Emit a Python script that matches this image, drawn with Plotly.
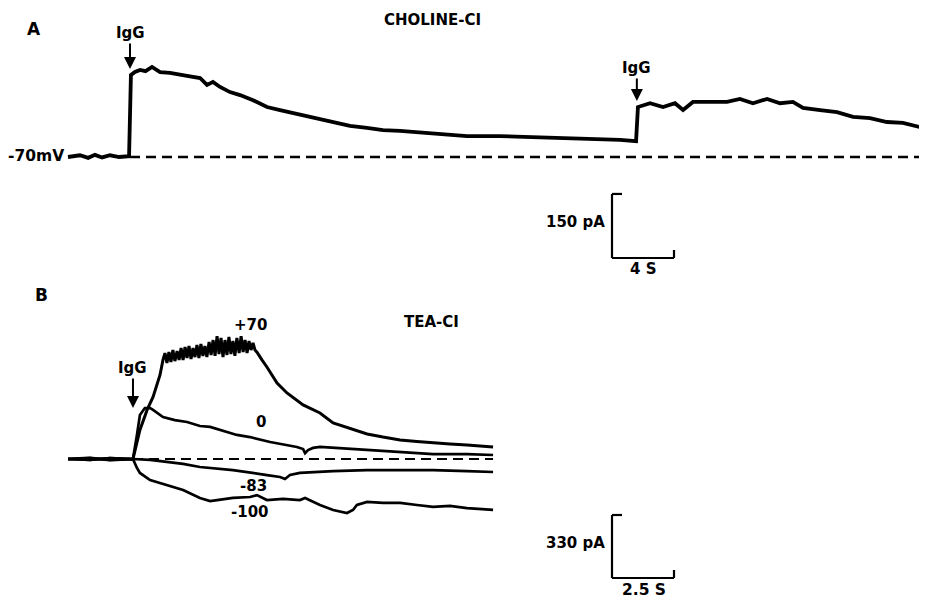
import plotly.graph_objects as go

# ---------------- DATA ----------------
# Panel A (Choline-Cl, holding -70 mV): time (s) from trace start, current (pA)
a_time = [0.0, 0.77, 1.3, 1.74, 2.2, 2.71, 3.3, 3.94, 4.06, 4.32, 4.65, 5.0, 5.42, 5.94, 6.58,
          7.23, 7.68, 8.52, 8.97, 9.35, 9.81, 10.45, 11.10, 11.94, 12.84, 13.68, 14.52,
          15.42, 16.26, 17.10, 18.19, 19.29, 20.32, 21.42, 23.55, 25.74, 27.87, 29.81,
          31.74, 33.87, 35.61, 36.65, 36.77, 37.55, 38.39, 39.16, 39.68, 40.32, 41.42,
          42.52, 43.35, 44.19, 45.10, 45.94, 46.77, 47.42, 48.52, 49.61, 50.65, 51.74,
          52.84, 53.87, 54.97, 55.42]
a_current = [0, 4, -2, 5, -1, 4, 0, 2, 192, 199, 204, 201, 211, 199, 197,
             194, 190, 185, 169, 176, 164, 152, 145, 133, 117, 110, 103,
             94, 87, 80, 73, 68, 63, 61, 56, 49, 49, 47,
             44, 41, 40, 37, 117, 126, 117, 126, 110, 129, 129,
             129, 136, 126, 136, 126, 129, 115, 110, 105, 94, 91,
             82, 80, 70, 73]
a_igg_times = [4.0, 36.7]
a_end_time = 55.42
a_scale_pA = 150
a_scale_s = 4

# Panel B (TEA-Cl): time (s) from trace start, current (pA) at four holding potentials
b_labels = ["+70", "0", "-83", "-100"]
b_time_p70 = [0.0, 0.89, 1.69, 2.62, 2.90, 3.19, 3.43, 3.71,
              3.83, 3.91, 3.99, 4.07, 4.15, 4.23, 4.31, 4.40, 4.48, 4.56, 4.64, 4.72,
              4.80, 4.88, 4.96, 5.04, 5.12, 5.20, 5.28, 5.36, 5.44, 5.52, 5.60, 5.69,
              5.77, 5.85, 5.93, 6.01, 6.09, 6.17, 6.25, 6.33, 6.41, 6.49, 6.57, 6.65,
              6.73, 6.81, 6.90, 6.98, 7.06, 7.14, 7.22, 7.30, 7.38, 7.46, 7.54, 7.62,
              7.82, 8.02, 8.43, 8.83, 9.48, 10.16, 10.69,
              11.37, 12.06, 12.70, 13.39, 14.07, 14.72, 15.40, 16.09, 16.61, 17.14]
b_cur_p70 = [0, 5, -5, 0, 152, 257, 325, 440,
             519, 555, 503, 560, 508, 571, 513, 566, 519, 581, 519, 587,
             529, 592, 524, 581, 534, 597, 529, 602, 540, 592, 534, 613,
             545, 623, 540, 644, 550, 634, 534, 623, 545, 639, 550, 618,
             540, 634, 555, 644, 560, 623, 555, 618, 571, 608, 571, 560,
             519, 482, 398, 346, 283, 241, 189,
             162, 131, 115, 100, 92, 84, 79, 73, 68, 63]
b_time_0 = [0.0, 0.89, 1.69, 2.62, 2.78, 2.90, 3.10, 3.31, 3.43, 3.83, 4.31, 4.80, 5.32,
            5.73, 6.81, 7.34, 8.15, 9.23, 9.48, 9.56, 9.68, 9.88, 10.16, 12.06, 13.39,
            14.72, 16.09, 17.14]
b_cur_0 = [0, -5, 5, 0, 126, 230, 267, 267, 257, 220, 204, 194, 173,
           168, 126, 115, 89, 63, 52, 31, 47, 58, 63, 47, 37,
           26, 26, 21]
b_time_m83 = [0.0, 0.89, 1.69, 2.62, 3.31, 3.99, 4.64, 5.32, 6.65, 8.02, 8.55, 8.75, 8.95,
              9.35, 10.69, 12.06, 13.39, 14.72, 16.09, 17.14]
b_cur_m83 = [0, 5, -5, 0, -5, -16, -26, -42, -58, -84, -94, -105, -84,
             -73, -63, -58, -58, -58, -63, -68]
b_time_m100 = [0.0, 0.89, 1.69, 2.62, 2.78, 2.90, 3.31, 3.71, 3.99, 4.64, 5.32, 5.73, 6.01,
               6.65, 7.34, 7.62, 8.02, 8.67, 9.35, 9.56, 10.16, 10.69, 11.25, 11.49,
               11.65, 12.06, 12.70, 13.39, 14.07, 14.72, 15.40, 16.09, 17.14]
b_cur_m100 = [0, -5, 5, 0, -47, -73, -110, -126, -136, -162, -204, -220, -215,
              -204, -199, -189, -215, -209, -215, -204, -241, -267, -283, -267,
              -241, -225, -230, -230, -241, -251, -246, -257, -267]
b_igg_time = 2.62
b_end_time = 17.14
b_scale_pA = 330
b_scale_s = 2.5

# ---------------- LAYOUT (pixel geometry of the 927x599 page) ----------------
PAGE_W, PAGE_H = 927, 599
OFF = 8                      # page body margin where the figure starts
W, H = PAGE_W - OFF, PAGE_H - OFF
SPLIT = 290                  # page pixel row separating panels
FONT = "DejaVu Sans"

# panel mappings (page pixels): x of t=0, px per s; y of 0 pA, px per pA
A_X0, A_SX, A_Y0, A_SY = 68, 15.5, 157, 0.427
B_X0, B_SX, B_Y0, B_SY = 68, 24.8, 459, 0.1909

def xr(x0, sx):
    return [(OFF - x0) / sx, (PAGE_W - x0) / sx]

def yr(y0, sy, top, bot):
    return [(y0 - bot) / sy, (y0 - top) / sy]

def ydom(top, bot):
    return [1 - (bot - OFF) / H, 1 - (top - OFF) / H]

fig = go.Figure()

fig.add_trace(go.Scatter(x=a_time, y=a_current, mode="lines", xaxis="x", yaxis="y",
                         line=dict(color="black", width=3.8), showlegend=False, hoverinfo="skip"))
for tt, cc, w in [(b_time_p70, b_cur_p70, 3.0), (b_time_0, b_cur_0, 2.7),
                  (b_time_m83, b_cur_m83, 2.7), (b_time_m100, b_cur_m100, 2.7)]:
    fig.add_trace(go.Scatter(x=tt, y=cc, mode="lines", xaxis="x2", yaxis="y2",
                             line=dict(color="black", width=w), showlegend=False, hoverinfo="skip"))

shapes = []
shapes.append(dict(type="line", xref="x", yref="y", x0=a_igg_times[0], x1=a_end_time, y0=0, y1=0,
                   line=dict(color="black", width=2.5, dash="10px,6px")))
shapes.append(dict(type="line", xref="x2", yref="y2", x0=b_igg_time, x1=b_end_time, y0=0, y1=0,
                   line=dict(color="black", width=2.2, dash="10px,6px")))

def scale_bar(xref, yref, px, py_bottom, x0, sx, y0, sy, pA, s):
    t0 = (px - x0) / sx
    i0 = (y0 - py_bottom) / sy
    tick_t = 10 / sx
    tick_i = 8 / sy
    st = dict(color="black", width=2.2)
    return [
        dict(type="line", xref=xref, yref=yref, x0=t0, x1=t0, y0=i0, y1=i0 + pA, line=st),
        dict(type="line", xref=xref, yref=yref, x0=t0, x1=t0 + tick_t, y0=i0 + pA, y1=i0 + pA, line=st),
        dict(type="line", xref=xref, yref=yref, x0=t0, x1=t0 + s, y0=i0, y1=i0, line=st),
        dict(type="line", xref=xref, yref=yref, x0=t0 + s, x1=t0 + s, y0=i0, y1=i0 + tick_i, line=st),
    ]

shapes += scale_bar("x", "y", 612, 258, A_X0, A_SX, A_Y0, A_SY, a_scale_pA, a_scale_s)
shapes += scale_bar("x2", "y2", 612, 578, B_X0, B_SX, B_Y0, B_SY, b_scale_pA, b_scale_s)

def P(px, py):
    return (px - OFF) / W, 1 - (py - OFF) / H

ann = []
def text(px, py, s, size=15, xanchor="center"):
    x, y = P(px, py)
    ann.append(dict(xref="paper", yref="paper", x=x, y=y, text="<b>%s</b>" % s, showarrow=False,
                    xanchor=xanchor, yanchor="middle", font=dict(family=FONT, size=size, color="black")))

text(34, 29, "A", 17)
text(432, 20, "CHOLINE-CI", 15)
text(41, 295, "B", 17)
text(431, 322, "TEA-CI", 15)
text(66, 156, "-70mV", 15.5, "right")
text(607, 222, "150 pA", 15, "right")
text(643, 269, "4 S", 15)
text(607, 543, "330 pA", 15, "right")
text(644, 590, "2.5 S", 15.5)
text(250, 325, "+70", 15)
text(261, 422, "0", 15)
text(254, 486, "-83", 15)
text(250, 512, "-100", 15)

def igg(xref, yref, t, tip_py, y0, sy, text_py):
    ann.append(dict(xref=xref, yref=yref, x=t, y=(y0 - tip_py) / sy, ax=0, ay=text_py - tip_py,
                    text="<b>IgG</b>", showarrow=True, arrowhead=2, arrowsize=1.2, arrowwidth=2,
                    arrowcolor="black", standoff=0,
                    font=dict(family=FONT, size=15, color="black")))

igg("x", "y", a_igg_times[0], 69, A_Y0, A_SY, 33)
igg("x", "y", a_igg_times[1], 101, A_Y0, A_SY, 68)
igg("x2", "y2", b_igg_time, 408, B_Y0, B_SY, 368)

ax_common = dict(visible=False, showgrid=False, zeroline=False, fixedrange=True)
fig.update_layout(
    width=W, height=H, margin=dict(l=0, r=0, t=0, b=0),
    paper_bgcolor="white", plot_bgcolor="white",
    xaxis=dict(domain=[0, 1], range=xr(A_X0, A_SX), anchor="y", **ax_common),
    yaxis=dict(domain=ydom(OFF, SPLIT), range=yr(A_Y0, A_SY, OFF, SPLIT), anchor="x", **ax_common),
    xaxis2=dict(domain=[0, 1], range=xr(B_X0, B_SX), anchor="y2", **ax_common),
    yaxis2=dict(domain=ydom(SPLIT, PAGE_H), range=yr(B_Y0, B_SY, SPLIT, PAGE_H), anchor="x2", **ax_common),
    shapes=shapes, annotations=ann, showlegend=False,
)

fig.write_html("out.html")
